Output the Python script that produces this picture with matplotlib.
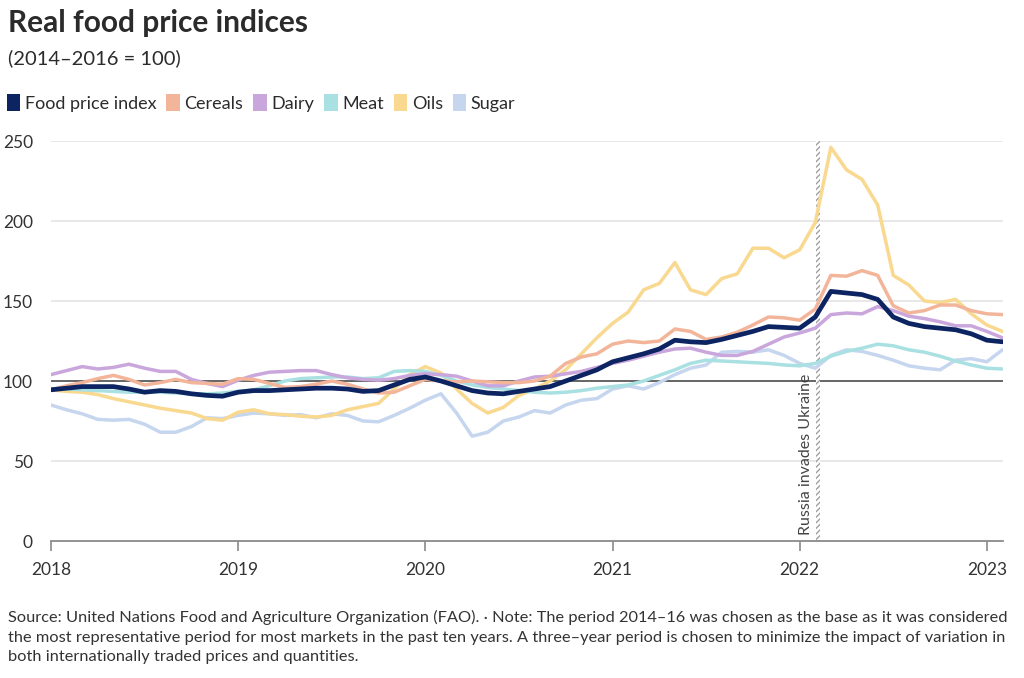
import numpy as np
import matplotlib
matplotlib.use("Agg")
import matplotlib.pyplot as plt
import matplotlib.patches as mpatches

plt.rcParams['font.family'] = ['Lato', 'DejaVu Sans']

# monthly values, Jan 2018 - Feb 2023 (2014-2016 = 100)
start_year = 2018
food = [94.5, 95.5, 96.5, 96.5, 96.5, 95, 93, 94, 93.5, 92, 91, 90.5,
        93, 94, 94, 94.5, 95, 95.5, 95.5, 95, 93.5, 94, 97.5, 101,
        102.5, 100, 97, 94, 92.5, 92, 93.5, 95, 96.5, 100, 103.5, 107,
        112, 114.5, 117, 120, 125.5, 124.5, 124, 126, 128.5, 131, 134, 133.5,
        133, 140, 156, 155, 154, 151, 140, 136, 134, 133, 132, 129.5,
        125.5, 124.5]
cereals = [94.5, 97, 99, 101.5, 103.5, 101, 97.5, 99, 101, 99, 98.5, 98,
           101.5, 101, 98.5, 96, 96.5, 98, 100, 98, 95, 92.5, 93, 97,
           101, 100, 99.5, 100, 99.5, 99, 99, 100, 103, 111, 115, 117,
           123, 125, 124, 125, 132.5, 131, 126, 127.5, 130.5, 135, 140, 139.5,
           138, 145, 166, 165.5, 169, 166, 147, 142.5, 144, 147.5, 147.5, 144,
           142, 141.5]
dairy = [104, 106.5, 109, 107.5, 108.5, 110.5, 108, 106, 106, 101, 98.5, 96.5,
         100.5, 103.5, 105.5, 106, 106.5, 106.5, 104, 102, 101, 100.5, 101.5, 103.5,
         104.5, 104, 103, 100, 97, 97, 100, 102.5, 103, 104.5, 106, 108.5,
         111, 113, 115.5, 118, 120, 120.5, 118, 116, 116, 118.5, 123, 127.5,
         130, 133, 141.5, 142.5, 142, 146.5, 144, 140.5, 139, 137, 134.5, 134.5,
         131, 127]
meat = [95, 95, 94.5, 94, 93.5, 93, 93, 93, 92.5, 92, 92, 92.5,
        93.5, 94.5, 97, 100, 101.5, 102, 102.5, 102.5, 101.5, 102, 106, 106.5,
        106, 103.5, 100, 97.5, 96, 95, 94, 93, 92.5, 93, 94, 95.5,
        96.5, 97.5, 100, 103.5, 107, 111, 113, 112.5, 112, 111.5, 111, 110,
        109.5, 111, 115.5, 118.5, 120.5, 123, 122, 119.5, 118, 115.5, 112.5, 110,
        108, 107.5]
oils = [94.5, 93.5, 93, 91.5, 89, 87, 85, 83, 81.5, 80, 76.5, 75.5,
        80.5, 82, 79.5, 79, 78, 77.5, 78.5, 82, 84, 86, 95, 104,
        109, 105, 95, 86, 80, 83.5, 91, 95, 100, 107, 117, 127,
        136, 143, 157, 161, 174, 157, 154, 164, 167, 183, 183, 177,
        182, 199, 246, 232, 226, 210, 166, 160, 150, 149, 151, 142,
        135, 131]
sugar = [85, 82, 79.5, 76, 75.5, 76, 73, 68, 68, 71.5, 77, 76.5,
         78.5, 80, 79.5, 78.5, 79, 77, 79.5, 78.5, 75, 74.5, 78.5, 83,
         88, 92, 80, 65.5, 68, 75, 77.5, 81.5, 80, 85, 88, 89,
         95, 97, 95, 99, 104, 108, 110, 118, 118.5, 118, 119.5, 116,
         111, 108, 116, 119.5, 118.5, 116, 113, 109.5, 108, 107, 113, 114,
         112, 119.5]

series_names = ['Food price index', 'Cereals', 'Dairy', 'Meat', 'Oils', 'Sugar']
colors = ['#0c2461', '#f3b59a', '#c9a6dc', '#a9e0e2', '#f9d88f', '#c5d6ee']
year_ticks = [2018, 2019, 2020, 2021, 2022, 2023]
y_ticks = [0, 50, 100, 150, 200, 250]
event_label = 'Russia invades Ukraine'
event_start, event_end = 2022.085, 2022.11

t = start_year + np.arange(len(food)) / 12.0

fig = plt.figure(figsize=(10.24, 6.78), dpi=100)
ax = fig.add_axes([51 / 1024, 1 - 541 / 678, (1003 - 51) / 1024, 400 / 678])

# grid
for yv in y_ticks[1:]:
    if yv == 100:
        continue
    ax.axhline(yv, color='#e4e4e4', lw=1.2, zorder=0)
ax.axhline(100, color='#3c3c3c', lw=1.1, zorder=1)

# event band
ax.axvspan(event_start, event_end, facecolor='white', edgecolor='#a0a0a0',
           hatch='//////', lw=0, zorder=2)
ax.text(event_start - 0.012, 4, event_label, rotation=90, ha='right', va='bottom',
        fontsize=11.5, color='#444444', zorder=3)

# lines (light ones first, index on top)
order = [5, 4, 3, 2, 1]
data = [food, cereals, dairy, meat, oils, sugar]
for i in order:
    ax.plot(t, data[i], color=colors[i], lw=2.5, solid_capstyle='round',
            solid_joinstyle='round', zorder=4)
ax.plot(t, food, color=colors[0], lw=3.4, solid_capstyle='round',
        solid_joinstyle='round', zorder=5)

ax.set_xlim(2018, t[-1] + 0.003)
ax.set_ylim(0, 250)
for s in ['top', 'right', 'left']:
    ax.spines[s].set_visible(False)
ax.spines['bottom'].set_color('#8a8a8a')
ax.spines['bottom'].set_linewidth(1.3)
ax.set_yticks(y_ticks)
ax.set_yticklabels([str(v) for v in y_ticks])
ax.tick_params(axis='y', length=0, pad=13, labelsize=12.5, labelcolor='#333333')
ax.set_xticks(year_ticks)
ax.set_xticklabels([str(v) for v in year_ticks])
ax.tick_params(axis='x', length=7, width=1.2, color='#8a8a8a', pad=8,
               labelsize=12.5, labelcolor='#333333')

# titles
fig.text(8 / 1024, 1 - 23 / 678, 'Real food price indices', fontsize=21.5,
         fontweight='bold', color='#2b2b2b', va='center', ha='left')
fig.text(8 / 1024, 1 - 58 / 678, '(2014\u20132016 = 100)', fontsize=14.5,
         color='#2b2b2b', va='center', ha='left')

# legend
handles = [mpatches.Patch(facecolor=c, edgecolor='none', label=n)
           for n, c in zip(series_names, colors)]
fig.legend(handles=handles, loc='center left', bbox_to_anchor=(-0.004, 1 - 103 / 678),
           ncol=6, frameon=False, fontsize=13, handlelength=0.75, handleheight=1.1,
           handletextpad=0.25, columnspacing=0.55, labelcolor='#2b2b2b',
           borderaxespad=0.2)

# footer
note = ('Source: United Nations Food and Agriculture Organization (FAO). \u00b7 Note: The period 2014\u201316 was chosen as the base as it was considered\n'
        'the most representative period for most markets in the past ten years. A three\u2013year period is chosen to minimize the impact of variation in\n'
        'both internationally traded prices and quantities.')
fig.text(8 / 1024, 1 - 610 / 678, note, fontsize=11.8, color='#333333',
         va='top', ha='left', linespacing=1.5)

fig.savefig('out.png', dpi=100, facecolor='white')
